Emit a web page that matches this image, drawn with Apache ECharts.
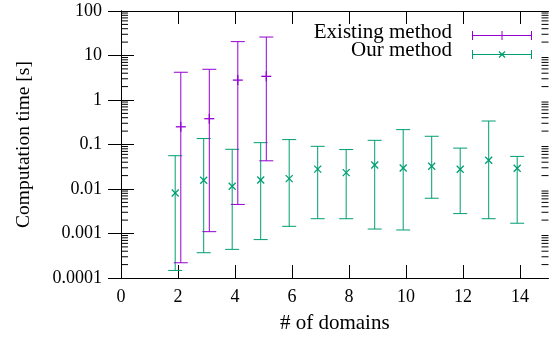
<!DOCTYPE html>
<html>
<head>
<meta charset="utf-8">
<script src="https://cdn.jsdelivr.net/npm/echarts@6/dist/echarts.min.js"></script>
<style>
  html, body { margin: 0; padding: 0; background: #fff; }
  #chart { width: 555px; height: 339px; }
</style>
</head>
<body>
<div id="chart"></div>
<script>
// data
const existingDomains = [2, 3, 4, 5];
const existingLow  = [0.00022, 0.0011, 0.0045, 0.043];
const existingMid  = [0.25, 0.38, 2.8, 3.4];
const existingHigh = [4.2, 4.9, 20.5, 26];

const ourDomains = [2, 3, 4, 5, 6, 7, 8, 9, 10, 11, 12, 13, 14];
const ourLow  = [0.000148, 0.00037, 0.00044, 0.00073, 0.00145, 0.00215, 0.00215, 0.00126, 0.0012, 0.0062, 0.0028, 0.00215, 0.0017];
const ourMid  = [0.0081, 0.0157, 0.0115, 0.016, 0.0171, 0.028, 0.0233, 0.0345, 0.0297, 0.0324, 0.0277, 0.0442, 0.0292];
const ourHigh = [0.056, 0.136, 0.078, 0.11, 0.129, 0.091, 0.077, 0.124, 0.216, 0.153, 0.083, 0.337, 0.054];

const xTicks = [0, 2, 4, 6, 8, 10, 12, 14];
const yTickLabels = ['0.0001', '0.001', '0.01', '0.1', '1', '10', '100'];

// gnuplot-like log minor ticks (2..9 of every decade)
const minorTicks = [];
for (let p = -4; p < 2; p++) {
  for (let m = 2; m <= 9; m++) minorTicks.push(m * Math.pow(10, p));
}

const FONT = "'Liberation Serif', 'Times New Roman', serif";
const PURPLE = '#9400d3';
const GREEN = '#009e73';
const X_MIN = 0, X_MAX = 15;

const chart = echarts.init(document.getElementById('chart'));

function errorBar(color, marker, shift) {
  return function (params, api) {
    const x = api.value(0);
    const lo = api.coord([x, api.value(1)]);
    const mid = api.coord([x, api.value(2)]);
    const hi = api.coord([x, api.value(3)]);
    const px = lo[0] + shift;
    const cap = 7;
    const st = { stroke: color, lineWidth: 1 };
    const mk = { stroke: color, lineWidth: 1.3 };
    const kids = [
      { type: 'line', shape: { x1: px, y1: lo[1], x2: px, y2: hi[1] }, style: st },
      { type: 'line', shape: { x1: px - cap, y1: lo[1], x2: px + cap, y2: lo[1] }, style: st },
      { type: 'line', shape: { x1: px - cap, y1: hi[1], x2: px + cap, y2: hi[1] }, style: st }
    ];
    if (marker === 'plus') {
      kids.push({ type: 'line', shape: { x1: px - 5, y1: mid[1], x2: px + 5, y2: mid[1] }, style: mk });
      kids.push({ type: 'line', shape: { x1: px, y1: mid[1] - 5, x2: px, y2: mid[1] + 5 }, style: mk });
    } else {
      const r = 3.5;
      kids.push({ type: 'line', shape: { x1: px - r, y1: mid[1] - r, x2: px + r, y2: mid[1] + r }, style: mk });
      kids.push({ type: 'line', shape: { x1: px - r, y1: mid[1] + r, x2: px + r, y2: mid[1] - r }, style: mk });
    }
    return { type: 'group', children: kids };
  };
}

function minorTick(params, api) {
  const v = api.value(1);
  const l = api.coord([X_MIN, v]);
  const r = api.coord([X_MAX, v]);
  const st = { stroke: '#000', lineWidth: 1 };
  return {
    type: 'group',
    children: [
      { type: 'line', shape: { x1: l[0], y1: l[1], x2: l[0] + 7, y2: l[1] }, style: st },
      { type: 'line', shape: { x1: r[0] - 7, y1: r[1], x2: r[0], y2: r[1] }, style: st }
    ]
  };
}

function legendSample(color, marker, top) {
  const st = { stroke: color, lineWidth: 1 };
  const kids = [
    { type: 'line', shape: { x1: 0, y1: 4.5, x2: 59, y2: 4.5 }, style: st },
    { type: 'line', shape: { x1: 0, y1: 0, x2: 0, y2: 9 }, style: st },
    { type: 'line', shape: { x1: 59, y1: 0, x2: 59, y2: 9 }, style: st }
  ];
  if (marker === 'plus') {
    kids.push({ type: 'line', shape: { x1: 29.5, y1: 0, x2: 29.5, y2: 9 }, style: st });
  } else {
    kids.push({ type: 'line', shape: { x1: 26.5, y1: 1.5, x2: 32.5, y2: 7.5 }, style: { stroke: color, lineWidth: 1.2 } });
    kids.push({ type: 'line', shape: { x1: 26.5, y1: 7.5, x2: 32.5, y2: 1.5 }, style: { stroke: color, lineWidth: 1.2 } });
  }
  return { type: 'group', left: 470, top: top, children: kids };
}

const baseX = {
  type: 'value', min: X_MIN, max: X_MAX, interval: 2,
  axisLine: { show: true, onZero: false, lineStyle: { color: '#000', width: 1 } },
  axisTick: { show: true, inside: true, length: 13, customValues: xTicks, lineStyle: { color: '#000' } },
  splitLine: { show: false }
};
const baseY = {
  type: 'log', logBase: 10, min: 0.0001, max: 100,
  axisLine: { show: true, lineStyle: { color: '#000', width: 1 } },
  axisTick: { show: true, inside: true, length: 13, lineStyle: { color: '#000' } },
  splitLine: { show: false }
};

const option = {
  animation: false,
  backgroundColor: '#fff',
  grid: { left: 121, right: 6.5, top: 11, bottom: 61 },
  xAxis: [
    Object.assign({}, baseX, {
      position: 'bottom',
      name: '# of domains', nameLocation: 'middle', nameGap: 35,
      nameTextStyle: { fontFamily: FONT, fontSize: 21, color: '#000' },
      axisLabel: { show: true, customValues: xTicks, margin: 10, fontFamily: FONT, fontSize: 18, color: '#000' }
    }),
    Object.assign({}, baseX, { position: 'top', axisLabel: { show: false } })
  ],
  yAxis: [
    Object.assign({}, baseY, {
      position: 'left',
      name: 'Computation time [s]', nameLocation: 'middle', nameGap: 87,
      nameTextStyle: { fontFamily: FONT, fontSize: 19.5, color: '#000' },
      axisLabel: {
        show: true, margin: 19, fontFamily: FONT, fontSize: 18, color: '#000',
        formatter: function (v) { return yTickLabels[Math.round(Math.log10(v)) + 4]; }
      }
    }),
    Object.assign({}, baseY, { position: 'right', axisLabel: { show: false } })
  ],
  series: [
    {
      type: 'custom', name: 'minor', xAxisIndex: 0, yAxisIndex: 0, silent: true, clip: false,
      renderItem: minorTick,
      encode: { x: 0, y: 1 },
      data: minorTicks.map(v => [X_MIN, v])
    },
    {
      type: 'custom', name: 'Our method', xAxisIndex: 0, yAxisIndex: 0, clip: false,
      renderItem: errorBar(GREEN, 'cross', -2.8),
      encode: { x: 0, y: [1, 2, 3] },
      data: ourDomains.map((d, i) => [d, ourLow[i], ourMid[i], ourHigh[i]])
    },
    {
      type: 'custom', name: 'Existing method', xAxisIndex: 0, yAxisIndex: 0, clip: false,
      renderItem: errorBar(PURPLE, 'plus', 2.8),
      encode: { x: 0, y: [1, 2, 3] },
      data: existingDomains.map((d, i) => [d, existingLow[i], existingMid[i], existingHigh[i]])
    }
  ],
  graphic: [
    { type: 'text', x: 452, y: 32, style: { text: 'Existing method', font: '21px ' + FONT, fill: '#000', align: 'right', verticalAlign: 'middle' } },
    { type: 'text', x: 452, y: 50, style: { text: 'Our method', font: '21px ' + FONT, fill: '#000', align: 'right', verticalAlign: 'middle' } },
    legendSample(PURPLE, 'plus', 28.5),
    legendSample(GREEN, 'cross', 47.5)
  ]
};

chart.setOption(option);
</script>
</body>
</html>
